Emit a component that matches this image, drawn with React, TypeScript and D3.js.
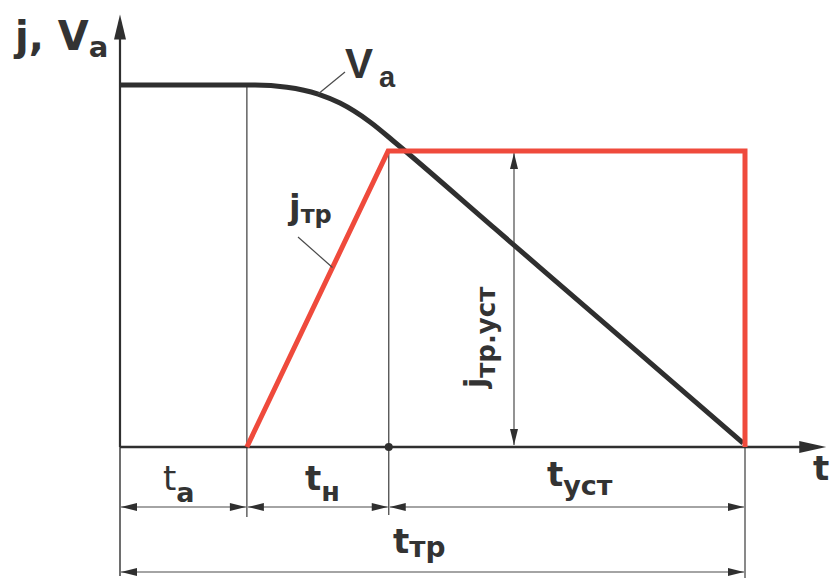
import React from "react";
import * as d3 from "d3";

// ---- data (schematic units) ----
const vaTime = [0, 2.16, 2.67, 3.17, 3.52, 4.0, 4.43, 6.0, 8.0, 9.97];
const vaValue = [1, 1, 0.994, 0.975, 0.95, 0.898, 0.837, 0.603, 0.305, 0.011];
const jTime = [2.03, 4.29, 10, 10];
const jValue = [0, 0.818, 0.818, 0];
const phaseBounds = [0, 2.03, 4.3, 10];
const phaseMain = ["t", "t", "t"];
const phaseSub = ["a", "н", "уст"];
const totalLabel = ["t", "тр"];
const jSteady = 0.818;
const tAxisMax = 11.3;
const vAxisMax = 1.195;

const W = 830;
const H = 578;
const RED = "#ef4a3c";
const DARK = "#2f2f2f";
const THIN = "#4a4a4a";
const FONT = "'DejaVu Sans', sans-serif";

function head(tx: number, ty: number, dx: number, dy: number, len: number, hw: number) {
  const bx = tx - dx * len;
  const by = ty - dy * len;
  const px = -dy, py = dx;
  return `${tx},${ty} ${bx + px * hw},${by + py * hw} ${bx - px * hw},${by - py * hw}`;
}

export default function App() {
  const x = d3.scaleLinear().domain([0, 10]).range([120, 745]);
  const y = d3.scaleLinear().domain([0, 1]).range([447, 85]);

  const vaPts: [number, number][] = vaTime.map((t, i) => [x(t), y(vaValue[i])]);
  const vaPath = d3.line().curve(d3.curveMonotoneX)(vaPts) || "";
  const jPts: [number, number][] = jTime.map((t, i) => [x(t), y(jValue[i])]);
  const jPath = d3.line()(jPts) || "";

  const x0 = x(0);
  const y0 = y(0);
  const row1 = 507;
  const row2 = 572;
  const ah = 16, aw = 4;

  const leaderVa = [x(3.17), y(0.975)];
  // point on red ramp
  const rampT = 3.40;
  const rampV = ((rampT - jTime[0]) / (jTime[1] - jTime[0])) * jValue[1];
  const leaderJ = [x(rampT), y(rampV)];

  const xSteady = 514;

  return (
    <svg width={W} height={H} style={{ position: "absolute", left: 0, top: 0, background: "#fff" }}>
      <rect width={W} height={H} fill="#fff" />
      {/* thin guide lines */}
      <line x1={x(phaseBounds[1])} x2={x(phaseBounds[1])} y1={y(1)} y2={517} stroke={THIN} strokeWidth={1.3} />
      <line x1={x(phaseBounds[2])} x2={x(phaseBounds[2])} y1={y(jSteady)} y2={515} stroke={THIN} strokeWidth={1.3} />
      <line x1={x(phaseBounds[3])} x2={x(phaseBounds[3])} y1={y(jSteady)} y2={H} stroke={THIN} strokeWidth={1.3} />
      <line x1={x0} x2={x0} y1={y0} y2={576} stroke={THIN} strokeWidth={1.6} />

      {/* axes */}
      <line x1={x0} x2={x0} y1={y0} y2={y(vAxisMax) + 20} stroke={DARK} strokeWidth={2.2} />
      <polygon points={head(x0, y(vAxisMax), 0, -1, 25, 6)} fill={DARK} />
      <line x1={x0} x2={x(tAxisMax) - 20} y1={y0} y2={y0} stroke={DARK} strokeWidth={2.6} />
      <polygon points={head(x(tAxisMax), y0, 1, 0, 27, 6)} fill={DARK} />
      <circle cx={x(phaseBounds[2])} cy={y0} r={4} fill={DARK} />

      {/* steady-state dimension */}
      <line x1={xSteady} x2={xSteady} y1={y(jSteady) + 2} y2={y0 - 2} stroke={THIN} strokeWidth={1.2} />
      <polygon points={head(xSteady, y(jSteady) + 2, 0, -1, ah, aw)} fill={DARK} />
      <polygon points={head(xSteady, y0 - 2, 0, 1, ah, aw)} fill={DARK} />

      {/* curves */}
      <path d={vaPath} fill="none" stroke={DARK} strokeWidth={5} strokeLinejoin="round" />
      <path d={jPath} fill="none" stroke={RED} strokeWidth={5} strokeLinejoin="miter" />

      {/* leaders */}
      <line x1={345} y1={72} x2={leaderVa[0]} y2={leaderVa[1]} stroke={THIN} strokeWidth={1.2} />
      <line x1={298} y1={237} x2={leaderJ[0]} y2={leaderJ[1]} stroke={THIN} strokeWidth={1.2} />

      {/* phase dimension arrows */}
      {phaseSub.map((_, i) => {
        const a = x(phaseBounds[i]) + 1;
        const b = x(phaseBounds[i + 1]) - 1;
        return (
          <g key={i}>
            <line x1={a} x2={b} y1={row1} y2={row1} stroke={THIN} strokeWidth={1.2} />
            <polygon points={head(a, row1, -1, 0, ah, aw)} fill={DARK} />
            <polygon points={head(b, row1, 1, 0, ah, aw)} fill={DARK} />
          </g>
        );
      })}
      <line x1={x0 + 1} x2={x(10) - 1} y1={row2} y2={row2} stroke={THIN} strokeWidth={1.2} />
      <polygon points={head(x0 + 1, row2, -1, 0, ah, aw)} fill={DARK} />
      <polygon points={head(x(10) - 1, row2, 1, 0, ah, aw)} fill={DARK} />

      {/* labels */}
      <g fill="#333" fontFamily={FONT} fontWeight="bold">
        <text x={15} y={50} fontSize={40}>
          j, V<tspan fontSize={29} dy={7}>a</tspan>
        </text>
        <text x={345} y={78} fontSize={42} fontFamily="'Liberation Sans', Arial, sans-serif">
          V<tspan fontSize={29} dx={6} dy={9}>a</tspan>
        </text>
        <text x={289} y={219} fontSize={34}>
          j<tspan fontSize={24} dy={4}>тр</tspan>
        </text>
        <text transform={`translate(486,388) rotate(-90)`} fontSize={30}>
          j<tspan fontSize={26} dy={9}>тр.уст</tspan>
        </text>
        <text x={813} y={480} fontSize={34}>t</text>
        <text x={163} y={490} fontSize={34} fontWeight="normal">
          {phaseMain[0]}<tspan fontSize={27} fontWeight="bold" dy={12}>{phaseSub[0]}</tspan>
        </text>
        <text x={305} y={490} fontSize={34}>
          {phaseMain[1]}<tspan fontSize={27} dy={11}>{phaseSub[1]}</tspan>
        </text>
        <text x={547} y={486} fontSize={34}>
          {phaseMain[2]}<tspan fontSize={27} dy={9}>{phaseSub[2]}</tspan>
        </text>
        <text x={393} y={553} fontSize={34}>
          {totalLabel[0]}<tspan fontSize={28} dy={4}>{totalLabel[1]}</tspan>
        </text>
      </g>
    </svg>
  );
}
